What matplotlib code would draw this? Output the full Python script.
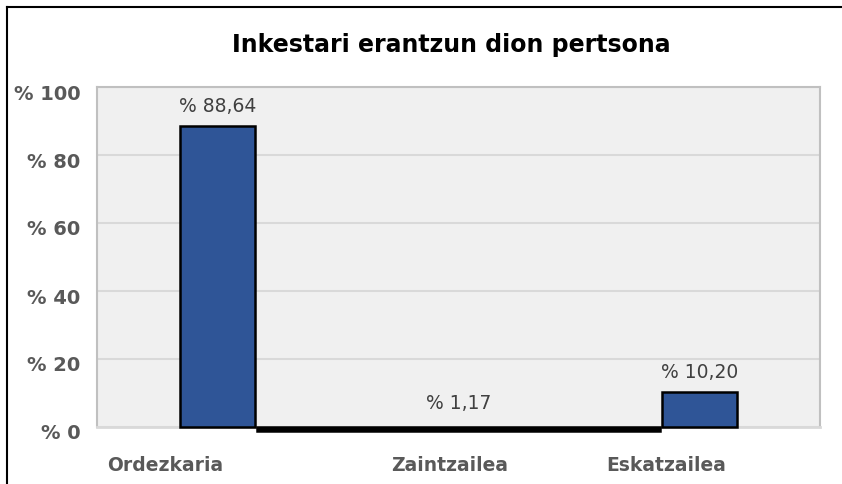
import numpy as np
import matplotlib
matplotlib.use('Agg')
import matplotlib.pyplot as plt
import matplotlib.transforms as mtransforms
from matplotlib.lines import Line2D

# datuak
kategoriak = ['Ordezkaria', 'Zaintzailea', 'Eskatzailea']
balioak = [88.64, 1.17, 10.20]
etiketak = ['% 88,64', '% 1,17', '% 10,20']
y_ticks = [0, 20, 40, 60, 80, 100]
y_etiketak = ['% 0', '% 20', '% 40', '% 60', '% 80', '% 100']

plt.rcParams['font.family'] = ['DejaVu Sans']

fig = plt.figure(figsize=(8.42, 4.85), dpi=100)
W, H = 842, 485
ax = fig.add_axes([97 / W, 1 - 428 / H, (820 - 97) / W, (428 - 88) / H])
ax.set_facecolor('#f0f0f0')

x = np.arange(len(kategoriak))
zabalerak = [0.315, 1.67, 0.315]
koloreak = ['#2f5597', 'black', '#2f5597']
bars = ax.bar(x, balioak, width=zabalerak, color=koloreak,
              edgecolor='black', linewidth=1.8, zorder=3, clip_on=False)
# erdiko barra apur bat behera (jatorrizkoan ardatzaren azpian ikusten da)
bars[1].set_transform(ax.transData + mtransforms.ScaledTranslation(0, -4 / 100, fig.dpi_scale_trans))

for b, lab in zip(bars, etiketak):
    ax.annotate(lab, (b.get_x() + b.get_width() / 2, b.get_height()),
                xytext=(0, 8), textcoords='offset points',
                ha='center', va='bottom', fontsize=13.5, color='#404040')

ax.set_xlim(-0.5, 2.5)
ax.set_ylim(0, 100)
ax.set_yticks(y_ticks)
ax.set_yticklabels(y_etiketak, fontsize=14, fontweight='bold', color='#595959')
ax.tick_params(axis='y', length=0, pad=12)
offs = mtransforms.ScaledTranslation(0, -4 / 100, fig.dpi_scale_trans)
for t in ax.get_yticklabels():
    t.set_transform(t.get_transform() + offs)
ax.grid(axis='y', color='#d9d9d9', linewidth=1.5, zorder=0)
ax.set_axisbelow(True)

# x etiketak (ez daude zentratuta barren azpian)
desplazamenduak = [-0.216, -0.037, -0.137]
ax.set_xticks(x + np.array(desplazamenduak))
ax.set_xticklabels(kategoriak, fontsize=13.5, fontweight='bold', color='#595959')
ax.tick_params(axis='x', length=0, pad=20)

for s in ['left', 'top', 'right']:
    ax.spines[s].set_color('#c0c0c0')
    ax.spines[s].set_linewidth(1.5)
ax.spines['bottom'].set_color('#d9d9d9')
ax.spines['bottom'].set_linewidth(2)

fig.text(451 / W, 1 - 45 / H, 'Inkestari erantzun dion pertsona',
         ha='center', va='center', fontsize=17, fontweight='bold', color='black')

# kanpoko ertza
fig.add_artist(Line2D([7 / W, 7 / W], [0, 1 - 8 / H], color='black', linewidth=1.5))
fig.add_artist(Line2D([7 / W, 1], [1 - 8 / H, 1 - 8 / H], color='black', linewidth=1.5))

fig.savefig('out.png', dpi=100)
